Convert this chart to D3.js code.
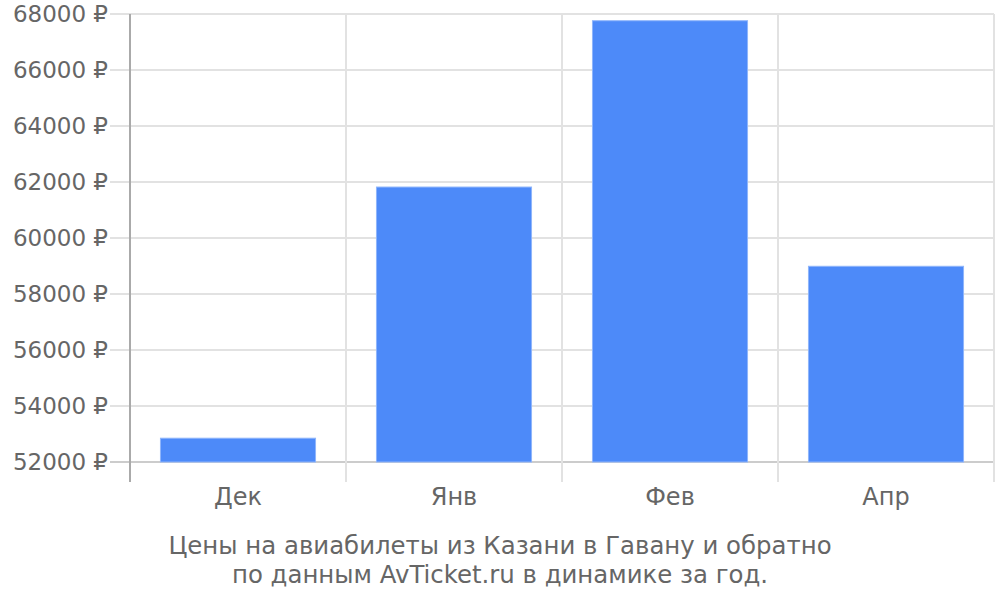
<!DOCTYPE html>
<html><head><meta charset="utf-8">
<script src="https://cdn.jsdelivr.net/npm/d3@7"></script>
<style>body{margin:0;background:#fff;} svg{display:block;font-family:"DejaVu Sans",sans-serif;}</style>
</head><body><svg id="c" width="1000" height="600"></svg>
<script>
const categories = ["Дек","Янв","Фев","Апр"];
const prices = [52850, 61820, 67760, 58990];
const yTicks = [52000,54000,56000,58000,60000,62000,64000,66000,68000];
const titleLines = ["Цены на авиабилеты из Казани в Гавану и обратно","по данным AvTicket.ru в динамике за год."];

const svg = d3.select("#c");
const L=130, R=994, T=14, B=462;
const x = d3.scaleBand().domain(categories).range([L,R]).paddingInner(0.282).paddingOuter(0.141);
const y = d3.scaleLinear().domain([52000,68000]).range([B,T]);
const step = x.step();

svg.append("g").selectAll("line").data(yTicks).join("line")
  .attr("x1",110).attr("x2",R).attr("y1",d=>y(d)).attr("y2",d=>y(d))
  .attr("stroke",d=>d===52000?"#cccccc":"#e2e2e2").attr("stroke-width",2);
const bounds = categories.map((c,i)=>L+step*(i+1));
svg.append("g").selectAll("line").data(bounds).join("line")
  .attr("x1",d=>d).attr("x2",d=>d).attr("y1",T).attr("y2",482)
  .attr("stroke","#e2e2e2").attr("stroke-width",2);
svg.append("line").attr("x1",L).attr("x2",L).attr("y1",T).attr("y2",482)
  .attr("stroke","#aaaaaa").attr("stroke-width",2);

svg.append("g").selectAll("rect").data(prices).join("rect")
  .attr("x",(d,i)=>x(categories[i])).attr("width",x.bandwidth())
  .attr("y",d=>y(d)).attr("height",d=>B-y(d))
  .attr("fill","#4d8af9").attr("stroke","#8fb5fb").attr("stroke-width",1);

svg.append("g").selectAll("text").data(yTicks).join("text")
  .attr("x",108).attr("y",d=>y(d)).attr("dy","0.36em").attr("text-anchor","end")
  .attr("fill","#666").attr("font-size",23).text(d=>d+" ₽");
svg.append("g").selectAll("text").data(categories).join("text")
  .attr("x",d=>x(d)+x.bandwidth()/2).attr("y",505).attr("text-anchor","middle")
  .attr("fill","#666").attr("font-size",24).text(d=>d);
svg.append("g").selectAll("text").data(titleLines).join("text")
  .attr("x",500).attr("y",(d,i)=>554+i*28.5).attr("text-anchor","middle")
  .attr("fill","#666").attr("font-size",24.4).text(d=>d);
</script></body></html>
